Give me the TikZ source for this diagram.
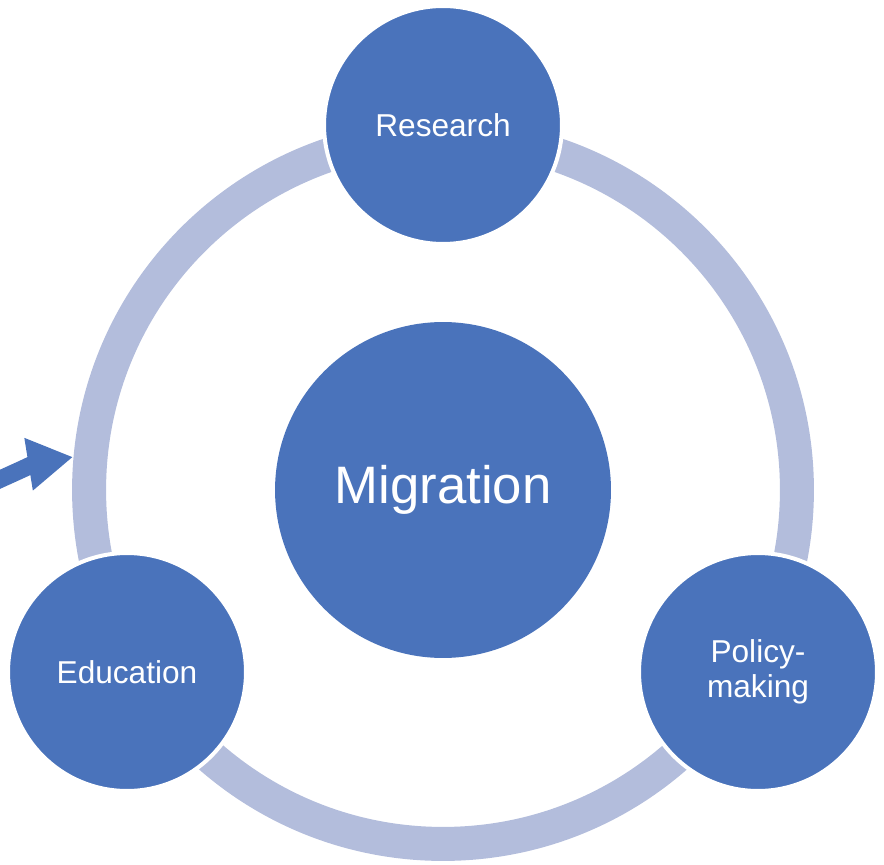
\documentclass[tikz,border=0pt]{standalone}
\usepackage{fontspec}
\setmainfont{Liberation Sans}
\usetikzlibrary{arrows.meta}
\definecolor{cycleblue}{HTML}{4A73BB}
\definecolor{ringblue}{HTML}{B3BDDC}
\begin{document}
\begin{tikzpicture}[x=0.02cm,y=-0.02cm]
  \tikzstyle{every node}=[circle,fill=cycleblue,draw=white,line width=0.8mm,
    text=white,inner sep=0pt,align=center,font=\fontsize{18}{20}\selectfont]
  \tikzstyle{stage}=[minimum size=47.6mm]
  \useasboundingbox (0,0) rectangle (884,864);
  % ring behind the stages
  \coordinate (hub) at (443,490);
  \draw[ringblue,line width=6.8mm] (hub) circle[radius=7.08cm];
  % arrow coming in from the left
  \coordinate (tail) at (-6,482);
  \coordinate (bend) at (36,463);
  \coordinate (tip) at (73,457);
  \draw[cycleblue,line width=3.5mm,-{Triangle[length=9mm,width=10mm]}]
    (tail) .. controls (bend) .. (tip);
  \node (mig) at (hub) [minimum size=67.2mm,draw=none,
    font=\fontsize{30}{34}\selectfont] {Migration};
  \node[stage] (res) at (443,125) {Research};
  \node[stage] (pol) at (758,672) {Policy-\\making};
  \node[stage] (edu) at (127,672) {Education};
\end{tikzpicture}
\end{document}
